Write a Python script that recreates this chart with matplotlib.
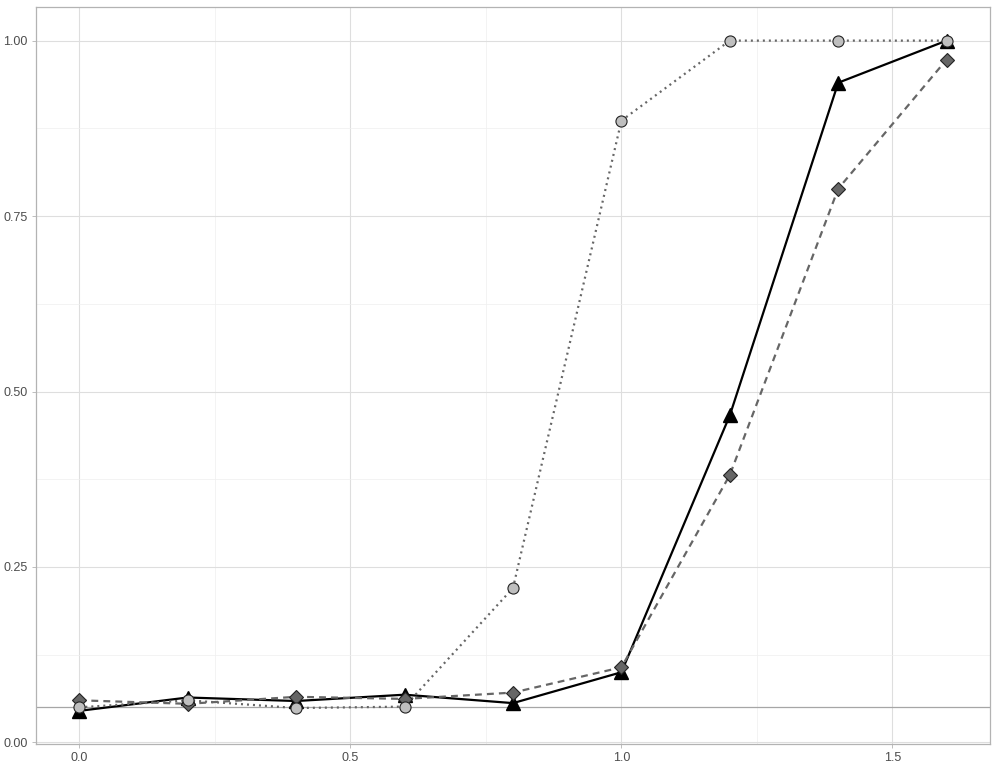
import numpy as np
import matplotlib.pyplot as plt

x = [0.0, 0.2, 0.4, 0.6, 0.8, 1.0, 1.2, 1.4, 1.6]
solid_tri = [0.045, 0.064, 0.059, 0.068, 0.056, 0.100, 0.466, 0.940, 1.000]
dashed_dia = [0.060, 0.055, 0.065, 0.062, 0.071, 0.107, 0.381, 0.789, 0.973]
dotted_circ = [0.050, 0.060, 0.049, 0.051, 0.220, 0.886, 1.000, 1.000, 1.000]
ref_level = 0.05

xticks = [0.0, 0.5, 1.0, 1.5]
xtick_labels = ["0.0", "0.5", "1.0", "1.5"]
yticks = [0.0, 0.25, 0.5, 0.75, 1.0]
ytick_labels = ["0.00", "0.25", "0.50", "0.75", "1.00"]

plt.rcParams["font.family"] = ["Liberation Sans", "DejaVu Sans"]

fig = plt.figure(figsize=(10, 7.7), dpi=100)
ax = fig.add_axes([0.036, 0.034, 0.954, 0.957])

ax.axhline(ref_level, color="#a6a6a6", lw=0.9, zorder=2)

# lines first, then points (ggplot layering)
ax.plot(x, solid_tri, color="black", lw=1.6, ls="-", zorder=3)
ax.plot(x, dashed_dia, color="#666666", lw=1.6, ls=(0, (3.1, 2.3)), zorder=3)
ax.plot(x, dotted_circ, color="#666666", lw=1.6, ls=(0, (0.9, 1.8)), zorder=3)

ax.plot(x, solid_tri, ls="none", marker="^", ms=9.5, mfc="black", mec="black", zorder=4)
ax.plot(x, dashed_dia, ls="none", marker="D", ms=7, mfc="#666666", mec="#222222", mew=0.8, zorder=5)
ax.plot(x, dotted_circ, ls="none", marker="o", ms=8, mfc="#bfbfbf", mec="#222222", mew=0.8, zorder=6)

ax.set_xlim(-0.08, 1.68)
ax.set_ylim(-0.002, 1.048)

ax.set_xticks(xticks)
ax.set_xticklabels(xtick_labels)
ax.set_yticks(yticks)
ax.set_yticklabels(ytick_labels)
ax.set_xticks([0.25, 0.75, 1.25], minor=True)
ax.set_yticks([0.125, 0.375, 0.625, 0.875], minor=True)

ax.grid(which="major", color="#dedede", lw=0.8)
ax.grid(which="minor", color="#efefef", lw=0.5)
ax.set_axisbelow(True)

ax.tick_params(which="major", length=3, width=0.6, color="#b3b3b3",
               labelsize=9, labelcolor="#4d4d4d", pad=3)
ax.tick_params(which="minor", length=0)
for s in ax.spines.values():
    s.set_color("#b3b3b3")
    s.set_linewidth(0.9)

fig.savefig("out.png", dpi=100)
